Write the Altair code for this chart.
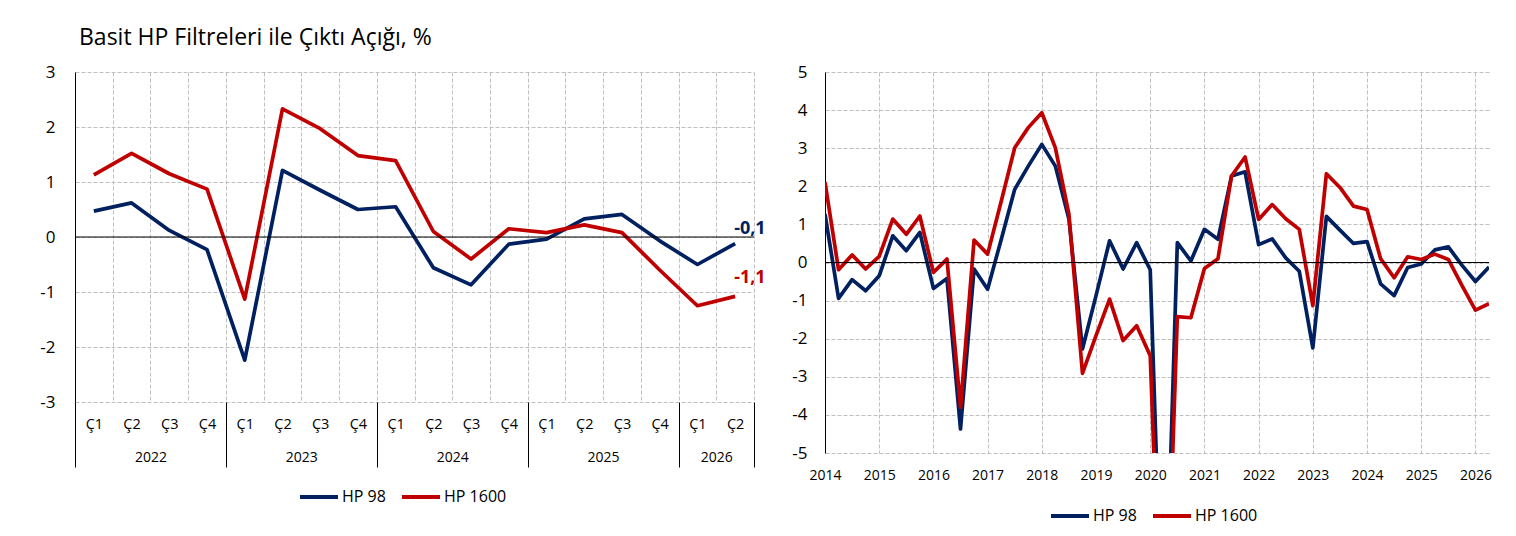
import json
import altair as alt
import pandas as pd

# ---------------- data ----------------
series_names = ["HP 98", "HP 1600"]
series_colors = ["#002060", "#C00000"]

quarter_labels = ["Ç1", "Ç2", "Ç3", "Ç4"] * 4 + ["Ç1", "Ç2"]
year_labels = ["2022", "2023", "2024", "2025", "2026"]
year_sizes = [4, 4, 4, 4, 2]

hp98_recent = [0.47, 0.62, 0.12, -0.23, -2.24, 1.21, 0.85, 0.50, 0.55, -0.56,
               -0.87, -0.13, -0.04, 0.33, 0.41, -0.07, -0.50, -0.12]
hp1600_recent = [1.13, 1.52, 1.15, 0.87, -1.13, 2.33, 1.97, 1.48, 1.39, 0.10,
                 -0.40, 0.15, 0.08, 0.22, 0.08, -0.60, -1.25, -1.08]

hp98_2014_2021 = [1.27, -0.94, -0.45, -0.74, -0.35, 0.70, 0.31, 0.79,
                  -0.68, -0.42, -4.37, -0.17, -0.70, 0.60, 1.92, 2.53,
                  3.10, 2.53, 1.14, -2.27, -0.87, 0.57, -0.17, 0.52,
                  -0.19, -11.0, 0.52, 0.04, 0.87, 0.61, 2.27, 2.38]
hp1600_2014_2021 = [2.11, -0.19, 0.20, -0.17, 0.16, 1.14, 0.74, 1.22,
                    -0.26, 0.09, -3.80, 0.59, 0.22, 1.60, 3.01, 3.54,
                    3.93, 3.01, 1.27, -2.91, -1.92, -0.96, -2.05, -1.66,
                    -2.45, -12.0, -1.42, -1.45, -0.16, 0.10, 2.27, 2.77]

last_labels = ["-0,1", "-1,1"]
start_year = 2014
right_year_ticks = list(range(2014, 2027))

FONT = "Open Sans"
GRID = "#BFBFBF"
LW = 3.7

# ---------------- left chart data ----------------
n_left = len(quarter_labels)
left_rows = []
for name, vals in zip(series_names, [hp98_recent, hp1600_recent]):
    for i, v in enumerate(vals):
        left_rows.append({"pos": i + 0.5, "series": name, "value": v})
left_df = pd.DataFrame(left_rows)

bounds = [0]
for s in year_sizes:
    bounds.append(bounds[-1] + s)
year_centers = [(bounds[k] + bounds[k + 1]) / 2 for k in range(len(year_sizes))]
year_lookup = [""] * (n_left + 1)
for c, lab in zip(year_centers, year_labels):
    year_lookup[int(c)] = lab

color_scale = alt.Scale(domain=series_names, range=series_colors)


def make_legend(lx, ly_):
    return alt.Legend(orient="none", legendX=lx, legendY=ly_, direction="horizontal",
                      title=None, symbolType="stroke", symbolSize=1444,
                      symbolStrokeWidth=4, labelFontSize=16, labelFont=FONT,
                      labelColor="#000", labelOffset=2, columnPadding=8, padding=0)


left_y_axis = alt.Axis(values=list(range(-3, 4)), title=None, grid=True,
                       gridColor=GRID, gridDash=[4, 2], domain=True, domainColor="#000",
                       ticks=False, labelPadding=20, labelFontSize=17, labelFont=FONT,
                       labelColor="#000", labelExpr="'' + datum.value")


def ly():
    return alt.Y("value:Q", scale=alt.Scale(domain=[-3, 3], nice=False, zero=False),
                 axis=left_y_axis)


lx_scale = alt.Scale(domain=[0, n_left], nice=False, zero=False)

left_lines = alt.Chart(left_df).mark_line(strokeWidth=LW, strokeJoin="round").encode(
    x=alt.X("pos:Q", scale=lx_scale,
            axis=alt.Axis(values=list(range(0, n_left + 1)), grid=True, gridColor=GRID,
                          gridDash=[4, 2], labels=False, ticks=False, domain=False,
                          title=None, orient="bottom")),
    y=ly(),
    color=alt.Color("series:N", scale=color_scale, legend=make_legend(223, 404)),
)

left_zero = alt.Chart(pd.DataFrame({"value": [0]})).mark_rule(color="#000", strokeWidth=1).encode(
    y=ly()
)

sep_axis = alt.Chart(left_df).mark_point(opacity=0).encode(
    x=alt.X("pos:Q", scale=lx_scale,
            axis=alt.Axis(values=bounds, grid=False, labels=False, ticks=True,
                          tickSize=65, tickColor="#000", tickWidth=1, domain=False,
                          title=None, orient="bottom")),
    y=ly(),
)

q_axis = alt.Chart(left_df).mark_point(opacity=0).encode(
    x=alt.X("pos:Q", scale=lx_scale,
            axis=alt.Axis(values=[i + 0.5 for i in range(n_left)], grid=False,
                          ticks=False, tickSize=0, domain=False, title=None,
                          orient="bottom", labelPadding=22, labelBaseline="middle",
                          labelFontSize=14.5, labelFont=FONT, labelColor="#000",
                          labelFlush=False, labelOverlap=False,
                          labelExpr=json.dumps(quarter_labels, ensure_ascii=False)
                          + "[floor(datum.value)]")),
    y=ly(),
)

yr_axis = alt.Chart(left_df).mark_point(opacity=0).encode(
    x=alt.X("pos:Q", scale=lx_scale,
            axis=alt.Axis(values=year_centers, grid=False, ticks=False, tickSize=0,
                          domain=False, title=None, orient="bottom", labelPadding=55,
                          labelBaseline="middle", labelFontSize=14, labelFont=FONT,
                          labelColor="#000", labelFlush=False, labelOverlap=False,
                          labelExpr=json.dumps(year_lookup) + "[round(datum.value)]")),
    y=ly(),
)

last_df = pd.DataFrame({
    "pos": [n_left - 0.5, n_left - 0.5],
    "value": [hp98_recent[-1], hp1600_recent[-1]],
    "series": series_names,
    "label": last_labels,
})

text_layers = []
for k, dy in zip(range(2), [-15, -18]):
    t = alt.Chart(last_df.iloc[[k]]).mark_text(
        align="left", baseline="middle", dx=-1, dy=dy, fontSize=18, fontWeight="bold",
        font=FONT, color=series_colors[k]
    ).encode(
        x=alt.X("pos:Q", scale=lx_scale, axis=None),
        y=ly(),
        text="label:N",
    )
    text_layers.append(t)

left = alt.layer(left_lines, left_zero, sep_axis, q_axis, yr_axis, *text_layers).resolve_axis(
    x="independent"
).properties(
    width=679, height=330,
    title=alt.TitleParams("Basit HP Filtreleri ile Çıktı Açığı, %", anchor="start",
                          frame="group", fontSize=23, font=FONT, fontWeight="normal",
                          color="#000", offset=-5, dx=4, baseline="alphabetic"),
)

# ---------------- right chart ----------------
right_rows = []
for name, vals in zip(series_names, [hp98_2014_2021 + hp98_recent,
                                     hp1600_2014_2021 + hp1600_recent]):
    for i, v in enumerate(vals):
        right_rows.append({"t": start_year + i / 4, "series": name, "value": v})
right_df = pd.DataFrame(right_rows)
t_end = start_year + (len(hp98_2014_2021) + len(hp98_recent) - 1) / 4

right_y_axis = alt.Axis(values=list(range(-5, 6)), title=None, grid=True,
                        gridColor=GRID, gridDash=[4, 2], domain=True, domainColor="#000",
                        ticks=False, labelPadding=18, labelFontSize=17, labelFont=FONT,
                        labelColor="#000", labelExpr="'' + datum.value")


def ry():
    return alt.Y("value:Q", scale=alt.Scale(domain=[-5, 5], nice=False, zero=False),
                 axis=right_y_axis)


rx_scale = alt.Scale(domain=[start_year, t_end], nice=False, zero=False)
right_x_axis = alt.Axis(values=right_year_ticks, format="d", grid=True, gridColor=GRID,
                        gridDash=[4, 2], ticks=False, tickSize=0, domain=False,
                        title=None, labelPadding=22, labelBaseline="middle",
                        labelFontSize=14, labelFont=FONT, labelColor="#000",
                        labelFlush=False, labelOverlap=False)

right_lines = alt.Chart(right_df).mark_line(strokeWidth=LW, strokeJoin="round", clip=True).encode(
    x=alt.X("t:Q", scale=rx_scale, axis=right_x_axis),
    y=ry(),
    color=alt.Color("series:N", scale=color_scale, legend=make_legend(224, 423)),
)

right_zero = alt.Chart(pd.DataFrame({"value": [0]})).mark_rule(color="#000", strokeWidth=1).encode(
    y=ry()
)

right = alt.layer(right_lines, right_zero).properties(width=664, height=381)

chart = alt.hconcat(left, right, spacing=71, bounds="flush").resolve_scale(
    color="independent"
).properties(
    padding={"left": 31, "top": 19, "right": 5, "bottom": 5}
).configure_view(stroke=None)

chart.save("out.html", embed_options={"renderer": "svg", "actions": False})
